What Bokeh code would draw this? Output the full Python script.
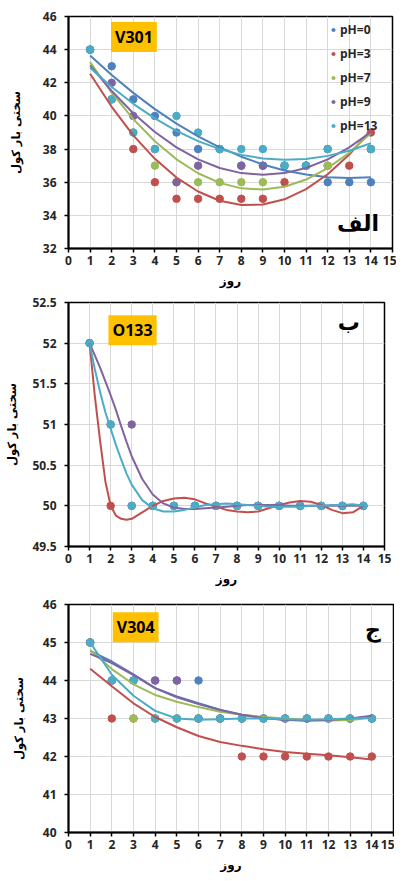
from bokeh.plotting import figure
from bokeh.layouts import column
from bokeh.models import Label, Legend, LegendItem, FixedTicker
from bokeh.embed import file_html
from bokeh.resources import INLINE

nan = float("nan")

# ---------------- common ----------------
days = [1, 2, 3, 4, 5, 6, 7, 8, 9, 10, 11, 12, 13, 14]
series_names = ["pH=0", "pH=3", "pH=7", "pH=9", "pH=13"]
colors = ["#4F81BD", "#C0504D", "#9BBB59", "#8064A2", "#4BACC6"]
x_ticks = [0, 1, 2, 3, 4, 5, 6, 7, 8, 9, 10, 11, 12, 13, 14, 15]
x_title = "روز"
y_title = "سختی بار کول"

# ---------------- panel الف : V301 ----------------
v301_ph0 = [44, 43, 41, 40, 39, 38, 38, 37, 37, 37, 37, 36, 36, 36]
v301_ph3 = [44, 41, 38, 36, 35, 35, 35, 35, 35, 36, 37, 37, 37, 39]
v301_ph7 = [44, 41, 39, 37, 36, 36, 36, 36, 36, 37, 37, 37, nan, 38]
v301_ph9 = [44, 42, 40, 38, 36, 37, 38, 37, 37, 37, 37, 38, nan, 38]
v301_ph13 = [44, 41, 39, 38, 40, 39, 38, 38, 38, 37, 37, 38, nan, 38]
# trend lines at each day
v301_fit_ph0 = [43.65, 42.47, 41.39, 40.41, 39.54, 38.77, 38.10, 37.54, 37.07, 36.71, 36.46, 36.30, 36.25, 36.30]
v301_fit_ph3 = [42.55, 40.55, 38.83, 37.41, 36.28, 35.44, 34.88, 34.62, 34.65, 34.97, 35.58, 36.48, 37.67, 39.15]
v301_fit_ph7 = [43.25, 41.40, 39.81, 38.47, 37.38, 36.54, 35.96, 35.63, 35.56, 35.73, 36.16, 36.85, 37.78, 38.97]
v301_fit_ph9 = [43.05, 41.50, 40.16, 39.03, 38.10, 37.38, 36.86, 36.55, 36.45, 36.55, 36.86, 37.38, 38.10, 39.03]
v301_fit_ph13 = [42.90, 41.75, 40.73, 39.85, 39.10, 38.48, 38.00, 37.65, 37.43, 37.35, 37.40, 37.59, 37.90, 38.35]
v301_y_ticks = [32, 34, 36, 38, 40, 42, 44, 46]
v301_y_labels = ["32", "34", "36", "38", "40", "42", "44", "46"]

# ---------------- panel ب : O133 ----------------
o133_ph3 = [52, 50, 50, 50, 50, 50, 50, 50, 50, 50, 50, 50, 50, 50]
o133_ph9 = [52, 51, 51, 50, 50, 50, 50, 50, 50, 50, 50, 50, 50, 50]
o133_ph13 = [52, 51, 50, 50, 50, 50, 50, 50, 50, 50, 50, 50, 50, 50]
o133_fit_x = [1, 1.25, 1.5, 1.75, 2, 2.25, 2.5, 2.75, 3, 3.5, 4, 4.5, 5, 5.5, 6, 6.5,
              7, 7.5, 8, 8.5, 9, 9.5, 10, 10.5, 11, 11.5, 12, 12.5, 13, 13.5, 14]
o133_fit_ph3 = [52, 51.35, 50.8, 50.3, 50.0, 49.88, 49.84, 49.83, 49.84, 49.92, 50.0, 50.06,
                50.09, 50.1, 50.08, 50.03, 49.99, 49.95, 49.93, 49.92, 49.93, 49.97, 50.01,
                50.04, 50.06, 50.05, 50.01, 49.95, 49.91, 49.92, 50.0]
o133_fit_ph9 = [52, 51.85, 51.7, 51.53, 51.36, 51.18, 50.98, 50.79, 50.61, 50.33, 50.14, 50.03,
                49.98, 49.96, 49.96, 49.97, 49.98, 49.99, 50.0, 50.01, 50.01, 50.01, 50.01,
                50.0, 50.0, 50.0, 50.0, 50.0, 50.0, 50.0, 50.0]
o133_fit_ph13 = [52, 51.68, 51.4, 51.15, 50.95, 50.75, 50.57, 50.4, 50.26, 50.07, 49.97, 49.93,
                 49.93, 49.95, 49.98, 50.01, 50.02, 50.03, 50.02, 50.01, 50.0, 49.99, 49.99,
                 49.99, 49.99, 50.0, 50.0, 50.01, 50.01, 50.02, 50.0]
o133_y_ticks = [49.5, 50, 50.5, 51, 51.5, 52, 52.5]
o133_y_labels = ["49.5", "50", "50.5", "51", "51.5", "52", "52.5"]

# ---------------- panel ج : V304 ----------------
v304_ph0 = [45, 44, 44, 44, 44, 44, 43, 43, 43, 43, 43, 43, 43, 43]
v304_ph3 = [45, 43, 43, 43, 43, 43, 43, 42, 42, 42, 42, 42, 42, 42]
v304_ph7 = [45, 44, 43, 43, 43, 43, 43, 43, 43, 43, 43, 43, 43, 43]
v304_ph9 = [45, 44, 44, 44, 44, 43, 43, 43, 43, 43, 43, 43, 43, 43]
v304_ph13 = [45, 44, 44, 43, 43, 43, 43, 43, 43, 43, 43, 43, 43, 43]
v304_fit_ph0 = [44.78, 44.50, 44.16, 43.80, 43.58, 43.40, 43.23, 43.10, 43.02, 42.97, 42.95, 42.96, 42.99, 43.06]
v304_fit_ph3 = [44.31, 43.85, 43.40, 43.04, 42.77, 42.54, 42.38, 42.28, 42.19, 42.12, 42.07, 42.03, 41.98, 41.92]
v304_fit_ph7 = [44.80, 44.30, 43.90, 43.62, 43.44, 43.30, 43.18, 43.10, 43.04, 43.00, 42.97, 42.95, 42.96, 43.02]
v304_fit_ph9 = [44.70, 44.46, 44.14, 43.80, 43.56, 43.38, 43.22, 43.10, 43.01, 42.96, 42.95, 42.96, 43.00, 43.07]
v304_fit_ph13 = [45.00, 44.15, 43.60, 43.20, 43.00, 42.97, 42.98, 43.00, 43.00, 42.98, 42.97, 42.98, 43.00, 43.02]
v304_y_ticks = [40, 41, 42, 43, 44, 45, 46]
v304_y_labels = ["40", "41", "42", "43", "44", "45", "46"]

TICK_FONT = "Open Sans"
AR_FONT = "DejaVu Sans"


def make_fig(y_range, y_ticks, y_labels, frame_w, frame_h, b_left, b_top, title_standoff):
    p = figure(x_range=(0, 15), y_range=y_range, frame_width=frame_w, frame_height=frame_h,
               output_backend="svg", toolbar_location=None,
               min_border_left=b_left, min_border_right=9, min_border_top=b_top,
               min_border_bottom=0)
    p.background_fill_color = "white"
    p.border_fill_color = "white"
    p.outline_line_color = "black"
    p.outline_line_width = 1.5
    p.xaxis.ticker = FixedTicker(ticks=x_ticks)
    p.yaxis.ticker = FixedTicker(ticks=y_ticks)
    p.yaxis.major_label_overrides = dict(zip(y_ticks, y_labels))
    for ax in (p.xaxis[0], p.yaxis[0]):
        ax.axis_line_color = "black"
        ax.axis_line_width = 2
        ax.major_tick_line_color = "black"
        ax.major_tick_line_width = 1.5
        ax.major_tick_out = 4
        ax.major_tick_in = 0
        ax.minor_tick_line_color = None
        ax.major_label_text_font = TICK_FONT
        ax.major_label_text_font_style = "bold"
        ax.major_label_text_font_size = "12px"
        ax.major_label_text_color = "#262626"
        ax.axis_label_text_font = AR_FONT
        ax.axis_label_text_font_style = "bold"
        ax.axis_label_text_font_size = "12px"
        ax.axis_label_text_color = "black"
    p.yaxis.axis_label_text_font_size = "11.5px"
    p.xaxis.axis_label = x_title
    p.yaxis.axis_label = y_title
    p.xaxis.major_label_standoff = 3
    p.xaxis.axis_label_standoff = 6
    p.yaxis.major_label_standoff = 8
    p.yaxis.axis_label_standoff = title_standoff
    p.xgrid.ticker = FixedTicker(ticks=x_ticks)
    p.ygrid.ticker = FixedTicker(ticks=y_ticks)
    p.xgrid.grid_line_color = "#D9D9D9"
    p.ygrid.grid_line_color = "#D9D9D9"
    p.xgrid.grid_line_width = 1
    p.ygrid.grid_line_width = 1
    return p


def tag(p, x, y, text):
    p.add_layout(Label(x=x, y=y, text=text, text_align="center", text_baseline="middle",
                       text_font=TICK_FONT, text_font_style="bold", text_font_size="16px",
                       text_color="black", background_fill_color="#FFC000",
                       padding=4))


def letter(p, x, y, text):
    p.add_layout(Label(x=x, y=y, text=text, text_align="center", text_baseline="middle",
                       text_font=AR_FONT, text_font_style="bold", text_font_size="22px",
                       text_color="black"))


# ---------- figure 1 ----------
p1 = make_fig((32, 46), v301_y_ticks, v301_y_labels, 324, 232, 60, 16, 17)
pts1 = [v301_ph0, v301_ph3, v301_ph7, v301_ph9, v301_ph13]
fits1 = [v301_fit_ph0, v301_fit_ph3, v301_fit_ph7, v301_fit_ph9, v301_fit_ph13]
items = []
for name, col, ys in zip(series_names, colors, pts1):
    r = p1.scatter(days, ys, size=7.5, color=col, line_color=col)
    items.append(LegendItem(label=name, renderers=[r]))
for col, ys in zip(colors, fits1):
    p1.line(days, ys, line_color=col, line_width=2)
legend = Legend(items=items, location=(261, 114), padding=0, margin=0, spacing=7,
                label_height=13, glyph_height=13, glyph_width=8, label_standoff=3,
                label_text_font=TICK_FONT, label_text_font_style="bold",
                label_text_font_size="12px", label_text_color="#262626",
                background_fill_alpha=0, border_line_alpha=0)
p1.add_layout(legend)
tag(p1, 3.03, 44.77, "V301")
letter(p1, 13.4, 33.5, "الف")

# ---------- figure 2 ----------
p2 = make_fig((49.5, 52.5), o133_y_ticks, o133_y_labels, 316, 244, 68, 12, 10)
pts2 = [(colors[1], o133_ph3), (colors[3], o133_ph9), (colors[4], o133_ph13)]
fits2 = [(colors[1], o133_fit_ph3), (colors[3], o133_fit_ph9), (colors[4], o133_fit_ph13)]
for col, ys in pts2:
    p2.scatter(days, ys, size=7.5, color=col, line_color=col)
for col, ys in fits2:
    p2.line(o133_fit_x, ys, line_color=col, line_width=2)
tag(p2, 3.04, 52.16, "O133")
letter(p2, 13.3, 52.26, "ب")

# ---------- figure 3 ----------
p3 = make_fig((40, 46), v304_y_ticks, v304_y_labels, 325, 228, 59, 16, 14)
pts3 = [v304_ph0, v304_ph3, v304_ph7, v304_ph9, v304_ph13]
fits3 = [v304_fit_ph0, v304_fit_ph3, v304_fit_ph7, v304_fit_ph9, v304_fit_ph13]
for col, ys in zip(colors, pts3):
    p3.scatter(days, ys, size=7.5, color=col, line_color=col)
for col, ys in zip(colors, fits3):
    p3.line(days, ys, line_color=col, line_width=2)
tag(p3, 3.1, 45.4, "V304")
letter(p3, 14.05, 45.35, "ج")

layout = column(p1, p2, p3, spacing=0)
open("out.html", "w").write(file_html(layout, INLINE))
